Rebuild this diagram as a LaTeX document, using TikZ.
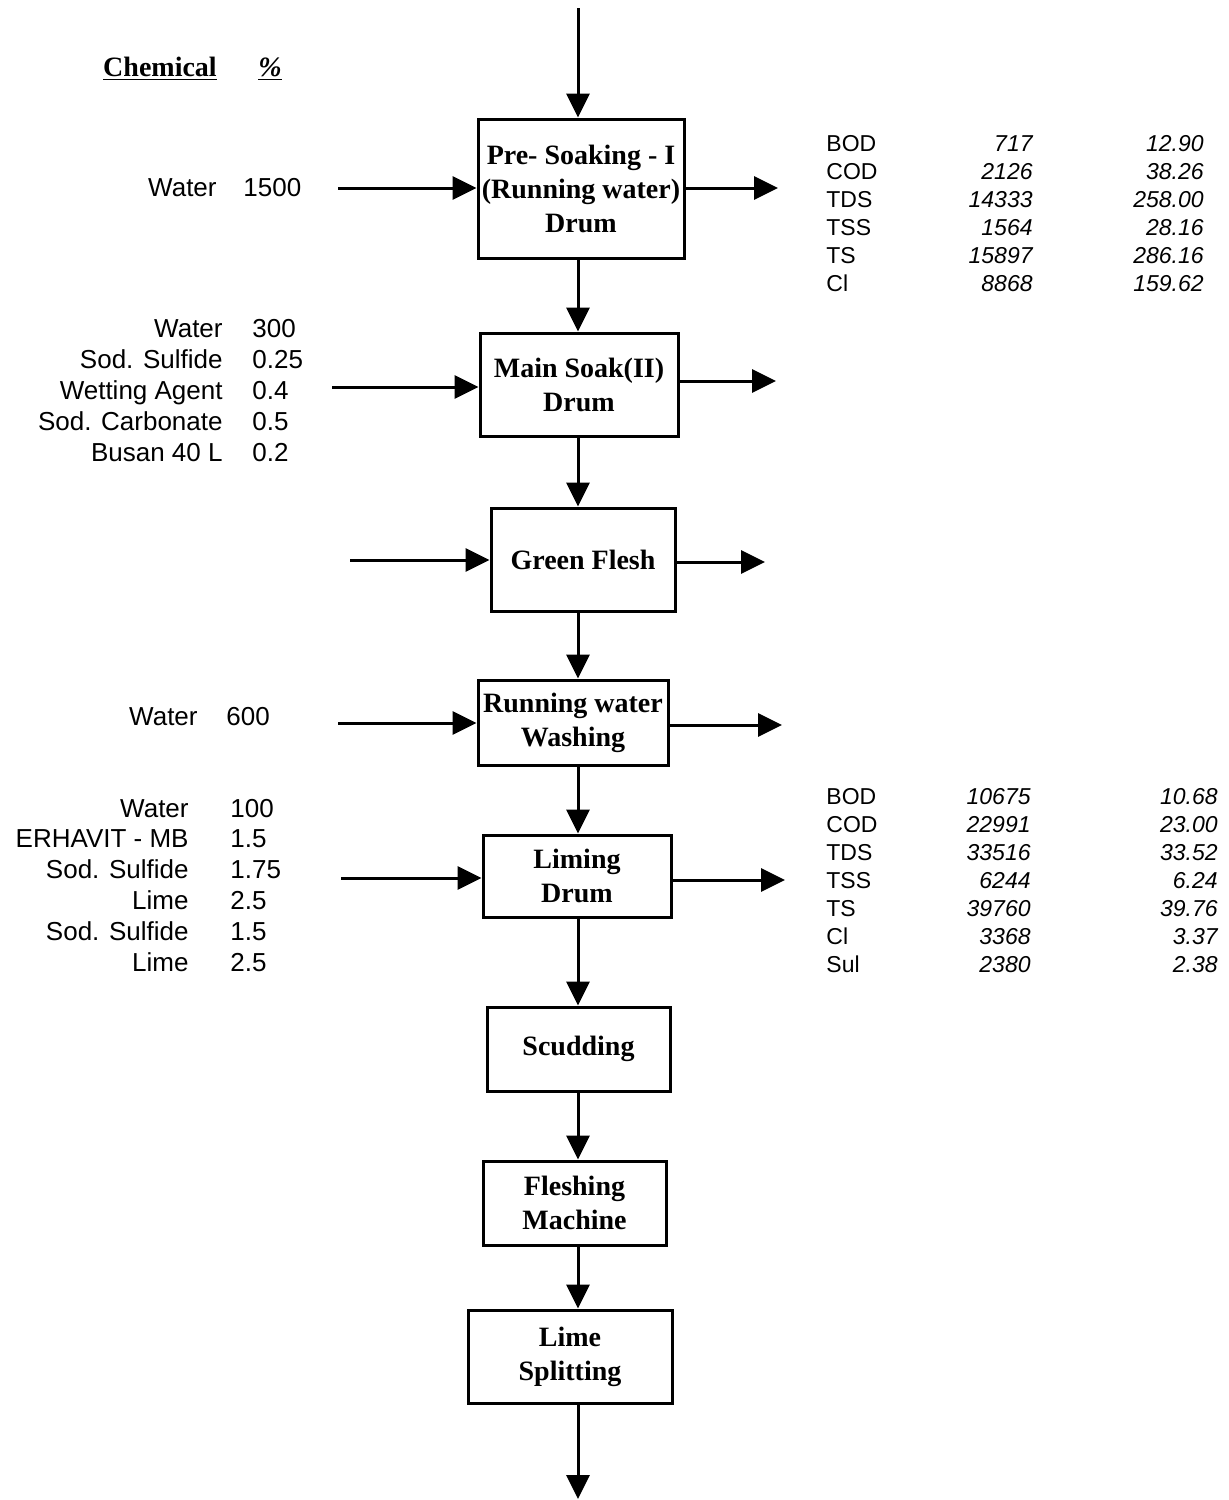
\documentclass[tikz,border=0pt]{standalone}
\usepackage{fontspec}
\setmainfont{Liberation Serif}
\setsansfont{Liberation Sans}
\usetikzlibrary{arrows.meta}

\tikzset{
  stage/.style={draw, line width=1.5pt, align=center, inner sep=0pt,
    font=\fontsize{14}{17}\selectfont\bfseries},
  flow/.style={line width=1.5pt, -{Triangle[length=12pt,width=11.5pt]}},
  chem/.style={inner sep=0pt, font=\sffamily\fontsize{13}{15.5}\selectfont},
  result/.style={inner sep=0pt, font=\sffamily\fontsize{11.5}{14}\selectfont}
}

\begin{document}
\begin{tikzpicture}[x=0.5pt,y=-0.5pt]
\useasboundingbox (0,0) rectangle (1229,1500);
\coordinate (axis) at (578,0);

% process stages
\node[stage, minimum width=103pt, minimum height=69.5pt] (presoak) at (581,188.5) {Pre- Soaking - I\\(Running water)\\Drum};
\node[stage, minimum width=99pt, minimum height=51.5pt] (mainsoak) at (579,384.5) {Main Soak(II)\\Drum};
\node[stage, minimum width=92pt, minimum height=51.5pt] (green) at (583,559.5) {Green Flesh};
\node[stage, minimum width=95pt, minimum height=42.5pt] (wash) at (573,722.5) {Running water\\Washing};
\node[stage, minimum width=94pt, minimum height=41pt] (liming) at (577,876) {Liming\\Drum};
\node[stage, minimum width=91.5pt, minimum height=42pt] (scud) at (578.5,1049) {Scudding};
\node[stage, minimum width=91.5pt, minimum height=42pt] (fleshing) at (574.5,1203) {Fleshing\\Machine};
\node[stage, minimum width=102pt, minimum height=46.5pt] (split) at (570,1356.5) {Lime\\Splitting};

% main line
\coordinate (top) at (578,8);
\coordinate (bottom) at (578,1499);
\draw[flow] (top) -- (presoak.north -| axis);
\draw[flow] (presoak.south -| axis) -- (mainsoak.north -| axis);
\draw[flow] (mainsoak.south -| axis) -- (green.north -| axis);
\draw[flow] (green.south -| axis) -- (wash.north -| axis);
\draw[flow] (wash.south -| axis) -- (liming.north -| axis);
\draw[flow] (liming.south -| axis) -- (scud.north -| axis);
\draw[flow] (scud.south -| axis) -- (fleshing.north -| axis);
\draw[flow] (fleshing.south -| axis) -- (split.north -| axis);
\draw[flow] (split.south -| axis) -- (bottom);

% side streams
\coordinate (in1) at (338,188);
\coordinate (out1) at (778,188);
\coordinate (in2) at (332,387);
\coordinate (out2) at (776,381);
\coordinate (in3) at (350,560);
\coordinate (out3) at (765,562);
\coordinate (in4) at (338,723);
\coordinate (out4) at (782,725);
\coordinate (in5) at (341,878);
\coordinate (out5) at (785,880);
\draw[flow] (in1) -- (presoak.west |- in1);
\draw[flow] (presoak.east |- out1) -- (out1);
\draw[flow] (in2) -- (mainsoak.west |- in2);
\draw[flow] (mainsoak.east |- out2) -- (out2);
\draw[flow] (in3) -- (green.west |- in3);
\draw[flow] (green.east |- out3) -- (out3);
\draw[flow] (in4) -- (wash.west |- in4);
\draw[flow] (wash.east |- out4) -- (out4);
\draw[flow] (in5) -- (liming.west |- in5);
\draw[flow] (liming.east |- out5) -- (out5);

% chemicals
\node[font=\fontsize{14}{17}\selectfont\bfseries] (chemhead) at (160,69) {\underline{Chemical}};
\node[font=\fontsize{14}{17}\selectfont\bfseries] (pcthead) at (270,69) {\underline{\textit{\%}}};

\node[chem, anchor=base east] (pw) at (217,196) {Water};
\node[chem, anchor=base west] (pwv) at (243,196) {1500};

\foreach \name/\val [count=\i] in {Water/300, Sod. Sulfide/0.25, Wetting Agent/0.4, Sod. Carbonate/0.5, Busan 40 L/0.2}
{
  \node[chem, anchor=base east] (ms\i) at (223,{337+31*(\i-1)}) {\name};
  \node[chem, anchor=base west] (msv\i) at (252,{337+31*(\i-1)}) {\val};
}

\node[chem, anchor=base east] (ww) at (198,725) {Water};
\node[chem, anchor=base west] (wwv) at (226,725) {600};

\foreach \name/\val [count=\i] in {Water/100, ERHAVIT - MB/1.5, Sod. Sulfide/1.75, Lime/2.5, Sod. Sulfide/1.5, Lime/2.5}
{
  \node[chem, anchor=base east] (lm\i) at (189,{817+30.8*(\i-1)}) {\name};
  \node[chem, anchor=base west] (lmv\i) at (230,{817+30.8*(\i-1)}) {\val};
}

% effluent
\foreach \p/\c/\v [count=\i] in {BOD/717/12.90, COD/2126/38.26, TDS/14333/258.00, TSS/1564/28.16, TS/15897/286.16, Cl/8868/159.62}
{
  \node[result, anchor=base west] (ps\i) at (826,{151+28*(\i-1)}) {\p};
  \node[result, anchor=base east] (psc\i) at (1033,{151+28*(\i-1)}) {\itshape\c};
  \node[result, anchor=base east] (psv\i) at (1204,{151+28*(\i-1)}) {\itshape\v};
}

\foreach \p/\c/\v [count=\i] in {BOD/10675/10.68, COD/22991/23.00, TDS/33516/33.52, TSS/6244/6.24, TS/39760/39.76, Cl/3368/3.37, Sul/2380/2.38}
{
  \node[result, anchor=base west] (li\i) at (826,{804+28.1*(\i-1)}) {\p};
  \node[result, anchor=base east] (lic\i) at (1031,{804+28.1*(\i-1)}) {\itshape\c};
  \node[result, anchor=base east] (liv\i) at (1218,{804+28.1*(\i-1)}) {\itshape\v};
}
\end{tikzpicture}
\end{document}
